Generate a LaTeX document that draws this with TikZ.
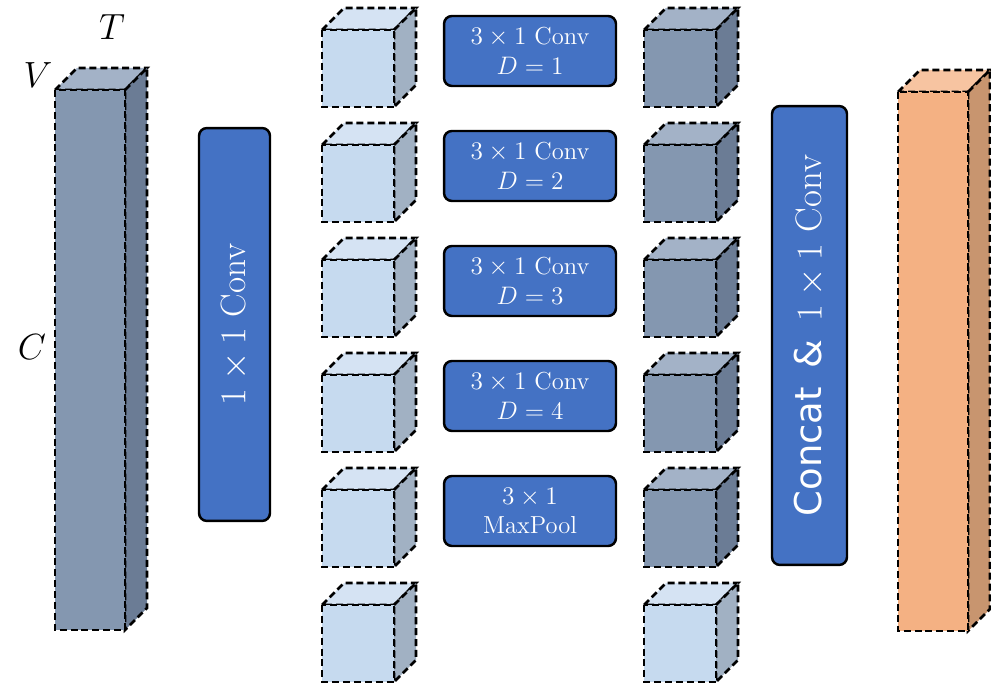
\documentclass[tikz,border=0pt]{standalone}
\usepackage{fontspec}
\newfontfamily\boxsans{DejaVu Sans}
\definecolor{slateFront}{HTML}{8497B0}
\definecolor{slateTop}{HTML}{A3B2C7}
\definecolor{slateSide}{HTML}{6B7C95}
\definecolor{paleFront}{HTML}{C6DAEF}
\definecolor{paleTop}{HTML}{D5E3F3}
\definecolor{paleSide}{HTML}{A1B1C3}
\definecolor{peachFront}{HTML}{F4B183}
\definecolor{peachTop}{HTML}{F7C4A1}
\definecolor{peachSide}{HTML}{C8956F}
\definecolor{opBlue}{HTML}{4472C4}

% cuboid: x, y of front top left, width, height, colour prefix
\newcommand{\blockcube}[5]{%
    \filldraw[cubeedge, fill = #5Top] (#1, #2) -- ++(22, -22) -- ++(#3, 0) -- ++(-22, 22) -- cycle;
    \filldraw[cubeedge, fill = #5Side] (#1 + #3, #2) -- ++(22, -22) -- ++(0, #4) -- ++(-22, 22) -- cycle;
    \filldraw[cubeedge, fill = #5Front] (#1, #2) rectangle ++(#3, #4);
}

\begin{document}
\begin{tikzpicture}[x = 0.02cm, y = -0.02cm,
        cubeedge/.style = {draw = black, line width = 1.5pt, dash pattern = on 4pt off 2.2pt},
        opbox/.style = {draw = black, line width = 1.4pt, fill = opBlue, rounded corners = 4.5pt,
            text = white, align = center, inner sep = 0pt},
        axislabel/.style = {font = \fontsize{20}{24}\selectfont}]
        \useasboundingbox (0, 0) rectangle (991, 685);

        % input tensor
        \blockcube{55}{90}{70}{540}{slate}
        \node[axislabel] (t) at (112, 27) {$T$};
        \node[axislabel] (v) at (38, 75) {$V$};
        \node[axislabel] (c) at (32, 347) {$C$};

        \node[opbox, rotate = 90, minimum width = 7.86cm, minimum height = 1.42cm,
            font = \fontsize{20}{24}\selectfont] (reduce) at (234.5, 324.5) {$1\times 1$ Conv};

        % branches
        \foreach \row in {0, ..., 5} {
            \blockcube{322}{30 + 115 * \row}{72}{77}{pale}
        }
        \foreach \row in {0, ..., 4} {
            \blockcube{644}{30 + 115 * \row}{72}{77}{slate}
        }
        \blockcube{644}{605}{72}{77}{pale}

        \foreach \d in {1, ..., 4} {
            \node[opbox, minimum width = 3.44cm, minimum height = 1.4cm,
                font = \fontsize{14}{17}\selectfont] (conv\d) at (530, 51 + 115 * \d - 115) {$3\times 1$ Conv\\$D=\d$};
        }
        \node[opbox, minimum width = 3.44cm, minimum height = 1.4cm,
            font = \fontsize{14}{17}\selectfont] (pool) at (530, 511) {$3\times 1$\\MaxPool};

        \node[opbox, rotate = 90, minimum width = 9.18cm, minimum height = 1.5cm,
            font = \fontsize{21}{25}\selectfont] (fuse) at (809.5, 335.5) {{\boxsans Concat\enspace\&}\enspace$1\times 1$ Conv};

        % output tensor
        \blockcube{898}{92}{70}{539}{peach}
    \end{tikzpicture}
\end{document}
